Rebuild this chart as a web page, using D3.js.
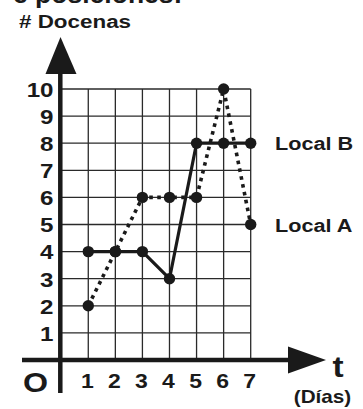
<!DOCTYPE html>
<html>
<head>
<meta charset="utf-8">
<script src="https://cdn.jsdelivr.net/npm/d3@7"></script>
<style>
  html, body { margin: 0; padding: 0; background: #fff; }
  svg { display: block; }
  text { font-family: "Liberation Sans", Arial, sans-serif; font-weight: bold; fill: #1a1a1a; }
</style>
</head>
<body>
<svg id="chart"></svg>
<script>
const days = [1, 2, 3, 4, 5, 6, 7]
const localA = [2, 4, 6, 6, 6, 10, 5]
const localB = [4, 4, 4, 3, 8, 8, 8]
const yTicks = [1, 2, 3, 4, 5, 6, 7, 8, 9, 10]
const seriesNames = ['Local A', 'Local B']

const W = 363, H = 409
const ink = '#1a1a1a'
const sx = 1.15 // text in the picture is a bit wider than Liberation Sans

const svg = d3.select('#chart').attr('width', W).attr('height', H)

const x = d3.scaleLinear().domain([0, 7]).range([61.2, 250.7])
const y = d3.scaleLinear().domain([0, 10]).range([360, 89])

function label(txt, px, py, size, anchor, stretch = sx) {
  svg.append('text')
    .attr('transform', `translate(${px},${py}) scale(${stretch},1)`)
    .attr('text-anchor', anchor)
    .attr('font-size', size)
    .text(txt)
}

// heading cut off at the very top, as in the source picture
label('e posiciones:', 13, 3, 26, 'start', 1.02)
label('# Docenas', 19, 28, 19, 'start', 1.18)

// grid
const grid = svg.append('g').attr('stroke', '#2a2a2a').attr('stroke-width', 1.3)
grid.selectAll('.v').data(days).join('line')
  .attr('x1', d => x(d)).attr('x2', d => x(d))
  .attr('y1', y(0)).attr('y2', y(10))
grid.selectAll('.h').data(yTicks).join('line')
  .attr('x1', x(0)).attr('x2', x(7))
  .attr('y1', d => y(d)).attr('y2', d => y(d))

// axes with arrows
svg.append('line').attr('x1', 60.3).attr('x2', 60.3).attr('y1', 393).attr('y2', 70)
  .attr('stroke', ink).attr('stroke-width', 4.5)
svg.append('path').attr('d', 'M60.5,37 L45.5,74 L76.5,74 Z').attr('fill', ink)
svg.append('line').attr('x1', 22).attr('x2', 292).attr('y1', y(0)).attr('y2', y(0))
  .attr('stroke', ink).attr('stroke-width', 4.5)
svg.append('path').attr('d', `M326,${y(0)} L288,${y(0) - 13.5} L288,${y(0) + 13.5} Z`).attr('fill', ink)

// tick labels
yTicks.forEach(v => label(v, 53.5, y(v) + 7.8, 21, 'end'))
days.forEach(d => label(d, x(d) - 1, 387.5, 20, 'middle'))
label('O', 35.5, 392, 28, 'middle')
label('t', 338, 376.5, 29, 'middle')
label('(Días)', 322.5, 403, 18, 'middle')

// series
const line = d3.line().x((d, i) => x(days[i])).y(d => y(d))
svg.append('path').datum(localA).attr('d', line)
  .attr('fill', 'none').attr('stroke', ink).attr('stroke-width', 3.6)
  .attr('stroke-dasharray', '3.6,4.4')
svg.append('path').datum(localB).attr('d', line)
  .attr('fill', 'none').attr('stroke', ink).attr('stroke-width', 3.2)
  .attr('stroke-linejoin', 'round')

const pts = [localA, localB].flatMap(s => s.map((v, i) => [days[i], v]))
svg.selectAll('.dot').data(pts).join('circle')
  .attr('cx', d => x(d[0])).attr('cy', d => y(d[1])).attr('r', 5.7)
  .attr('fill', ink)

// series names at the right end
label(seriesNames[1], 275, y(localB[6]) + 7, 19, 'start', 1.14)
label(seriesNames[0], 275, y(localA[6]) + 7, 19, 'start', 1.14)
</script>
</body>
</html>
